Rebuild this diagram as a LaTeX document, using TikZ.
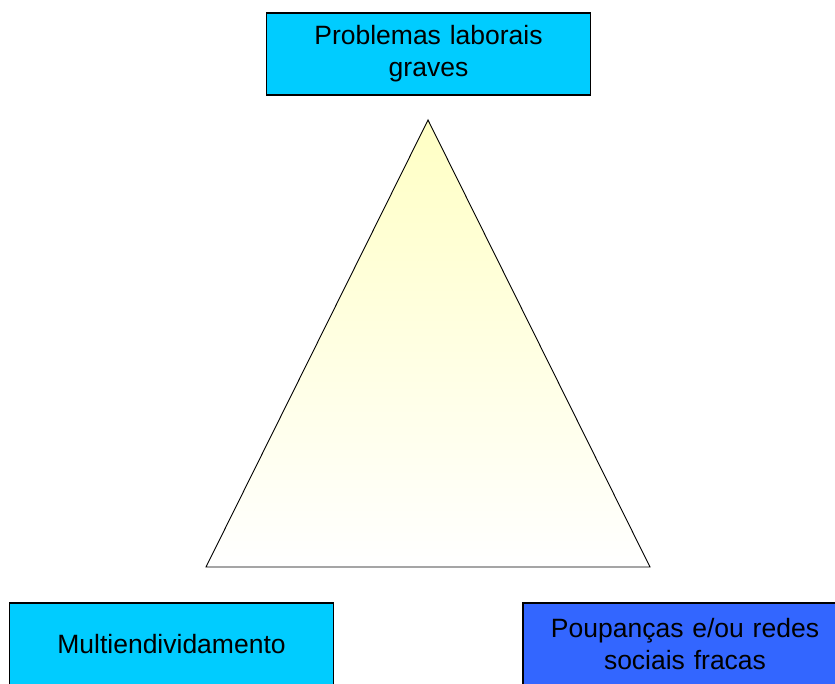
\documentclass[tikz,border=0pt]{standalone}
\usepackage{fontspec}
\setmainfont{Liberation Sans}
\usepackage{xcolor}
\usepackage{tikz}
\usetikzlibrary{positioning, shapes.geometric}

\definecolor{boxcyan}{HTML}{00CCFF}
\definecolor{boxblue}{HTML}{3366FF}
\definecolor{paleyellow}{HTML}{FFFFC4}

\begin{document}
\begin{tikzpicture}[
      x=1pt, y=-1pt,
      every box/.style={draw, line width=1.2pt, minimum width=324pt,
        minimum height=82pt, text width=300pt, align=center,
        font=\fontsize{26.5}{32}\selectfont},
      cause/.style={every box, fill=boxcyan},
      weak/.style={every box, fill=boxblue},
    ]

    \useasboundingbox (0,0) rectangle (835,684);
    \clip (0,0) rectangle (835,684);

    % triangulo
    \coordinate (apex)  at (428,120);
    \coordinate (bleft) at (206,567);
    \coordinate (bright) at (650,567);
    \draw[line width=0.9pt, top color=paleyellow, bottom color=white]
      (apex) -- (bleft) -- (bright) -- cycle;

    \node[cause] (laborais) at (428.5,54) {Problemas laborais\\graves};
    \node[cause] (divida)   at (171.5,644) {Multiendividamento};
    \node[weak]  (redes)    at (685,644) {Poupanças e/ou redes\\sociais fracas};

  \end{tikzpicture}
\end{document}
